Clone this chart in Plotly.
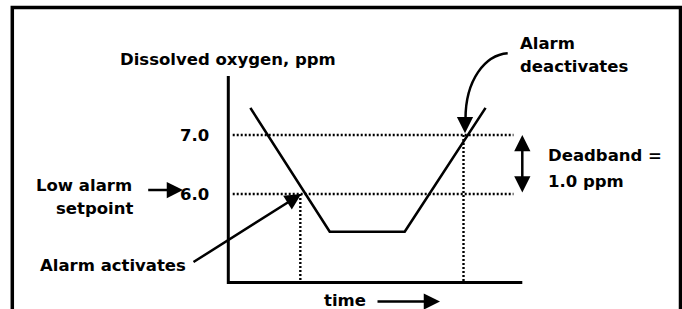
import plotly.graph_objects as go

# ---------------- data ----------------
curve_time = [0.75, 3.45, 6.0, 8.75]          # time (arbitrary units)
curve_ppm = [7.46, 5.36, 5.36, 7.46]          # dissolved oxygen, ppm
setpoint_ppm = 6.0                            # low alarm setpoint
deadband_ppm = 1.0
reset_ppm = setpoint_ppm + deadband_ppm       # 7.0
alarm_on_time = 2.45
alarm_off_time = 8.0
axis_time = [0.0, 10.0]
axis_ppm = [4.5, 8.0]
guide_time = [0.15, 9.7]
tick_vals = [6.0, 7.0]
tick_labels = ["6.0", "7.0"]

# ---------------- calibration (pixel <-> data) ----------------
W, H = 682, 309
X0_PX, PX_PER_T = 228.3, 29.4       # time 0 at x pixel, px per time unit
Y6_PX, PX_PER_PPM = 194.0, 59.0     # 6.0 ppm at y pixel, px per ppm


def X(px):
    return (px - X0_PX) / PX_PER_T


def Y(py):
    return 6.0 + (Y6_PX - py) / PX_PER_PPM


FONT = dict(family="DejaVu Sans", size=16.5, color="black", weight="bold")
DOT = dict(color="black", width=2.4, dash="2px,2px")

fig = go.Figure()

# axes of the sketch
fig.add_trace(go.Scatter(x=[axis_time[0], axis_time[0], axis_time[1]],
                         y=[axis_ppm[1], axis_ppm[0], axis_ppm[0]],
                         mode="lines", line=dict(color="black", width=3),
                         hoverinfo="skip"))

# dotted guides
for v in [reset_ppm, setpoint_ppm]:
    fig.add_trace(go.Scatter(x=guide_time, y=[v, v], mode="lines", line=DOT,
                             hoverinfo="skip"))
fig.add_trace(go.Scatter(x=[alarm_on_time, alarm_on_time], y=[setpoint_ppm, axis_ppm[0]],
                         mode="lines", line=DOT, hoverinfo="skip"))
fig.add_trace(go.Scatter(x=[alarm_off_time, alarm_off_time], y=[reset_ppm, axis_ppm[0]],
                         mode="lines", line=DOT, hoverinfo="skip"))

# DO curve
fig.add_trace(go.Scatter(x=curve_time, y=curve_ppm, mode="lines",
                         line=dict(color="black", width=2.6), hoverinfo="skip"))

ann = []


def text(t, px, py, anchor="left"):
    ann.append(dict(x=X(px), y=Y(py), xref="x", yref="y", text=t, showarrow=False,
                    xanchor=anchor, yanchor="middle", font=FONT))


def arrow(x, y, ax, ay, side="end"):
    ann.append(dict(x=x, y=y, ax=ax, ay=ay, xref="x", yref="y", axref="x", ayref="y",
                    text="", showarrow=True, arrowhead=2, arrowsize=1.3, arrowwidth=2.5,
                    arrowcolor="black", arrowside=side, standoff=0, startstandoff=0))


# tick labels
for v, lab in zip(tick_vals, tick_labels):
    ann.append(dict(x=X(211), y=v, xref="x", yref="y", text=lab, showarrow=False,
                    xanchor="right", yanchor="middle", font=FONT))

text("Dissolved oxygen, ppm", 227.5, 59, "center")
text("Low alarm", 134, 185, "right")
text("setpoint", 135, 208, "right")
text("Alarm activates", 38, 265)
text("Alarm", 518, 43)
text("deactivates", 518, 66)
text("Deadband =", 546, 155)
text("1.0 ppm", 546, 181.5)
text("time", 344.5, 300, "center")

# arrows
arrow(X(183), Y(190), X(146.7), Y(190))
arrow(alarm_on_time + 0.03, setpoint_ppm, X(192), Y(263))
arrow(axis_time[1], reset_ppm, axis_time[1], setpoint_ppm, side="end+start")
arrow(X(440), Y(301.5), X(376), Y(301.5))
arrow(alarm_off_time + 0.05, reset_ppm + 0.03, alarm_off_time + 0.05, Y(117))

fig.update_layout(annotations=ann)

# curved arrow stem
p0 = (X(507.7), Y(53.3))
c1 = (X(485), Y(55))
c2 = (X(465.5), Y(80))
p1 = (X(465.5), Y(119))
fig.add_shape(type="path", xref="x", yref="y",
              path=f"M {p0[0]},{p0[1]} C {c1[0]},{c1[1]} {c2[0]},{c2[1]} {p1[0]},{p1[1]}",
              line=dict(color="black", width=2.5))

# frame
fig.add_shape(type="rect", xref="paper", yref="paper",
              x0=12.3 / W, x1=680.5 / W, y0=-0.2, y1=1 - 7.5 / H,
              line=dict(color="black", width=3.5), fillcolor="rgba(0,0,0,0)")

fig.update_layout(
    width=W, height=H, autosize=False,
    margin=dict(l=0, r=0, t=0, b=0, pad=0),
    paper_bgcolor="white", plot_bgcolor="white",
    showlegend=False,
    xaxis=dict(visible=False, range=[X(0), X(W)], fixedrange=True),
    yaxis=dict(visible=False, range=[Y(H), Y(0)], fixedrange=True),
)

fig.write_html("out.html", config={"displayModeBar": False},
               post_script="document.body.style.margin='0px';document.body.style.overflow='hidden';")
